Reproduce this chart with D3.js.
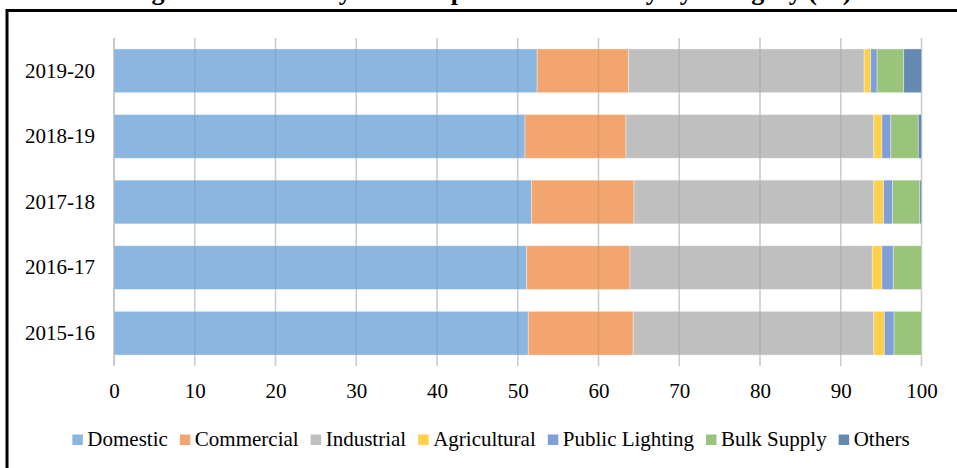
<!DOCTYPE html>
<html>
<head>
<meta charset="utf-8">
<script src="https://cdn.jsdelivr.net/npm/d3@7"></script>
<style>
  html, body { margin: 0; padding: 0; background: #fff; overflow: hidden; }
  svg { display: block; }
  text { font-family: "Liberation Serif", "Times New Roman", serif; fill: #000; }
</style>
</head>
<body>
<svg id="chart" width="957" height="468"></svg>
<script>
// Share of electricity consumption by consumer category, per fiscal year (%)
const years = ["2019-20", "2018-19", "2017-18", "2016-17", "2015-16"];
const categories = ["Domestic", "Commercial", "Industrial", "Agricultural", "Public Lighting", "Bulk Supply", "Others"];
const domestic      = [52.4, 50.9, 51.7, 51.1, 51.3];
const commercial    = [11.3, 12.5, 12.7, 12.8, 13.0];
const industrial    = [29.2, 30.7, 29.7, 30.0, 29.8];
const agricultural  = [0.8, 1.0, 1.2, 1.2, 1.3];
const publicLighting = [0.8, 1.1, 1.1, 1.4, 1.2];
const bulkSupply    = [3.3, 3.4, 3.4, 3.5, 3.4];
const others        = [2.2, 0.4, 0.2, 0.0, 0.0];
const xTicks = [0, 10, 20, 30, 40, 50, 60, 70, 80, 90, 100];
const titleText = "Figure 4: Electricity Consumption of Electricity by Category (%)";

const colors = ["#8BB6E0", "#F2A56F", "#BFBFBF", "#FFD04B", "#7F9FD6", "#9AC47C", "#6589B0"];
const seriesValues = [domestic, commercial, industrial, agricultural, publicLighting, bulkSupply, others];

const rows = years.map((y, i) => {
  const r = { year: y };
  categories.forEach((c, k) => { r[c] = seriesValues[k][i]; });
  return r;
});
const stacked = d3.stack().keys(categories)(rows);

const svg = d3.select("#chart");
const fontSize = 21;
const serif = '"Liberation Serif", "Times New Roman", serif';

const x = d3.scaleLinear().domain([0, 100]).range([114, 921.5]);
const y = d3.scaleBand().domain(years).range([38, 366]).paddingInner(1 / 3).paddingOuter(1 / 6);
const color = d3.scaleOrdinal().domain(categories).range(colors);

// Outer frame (extends past the right and bottom edges)
svg.append("rect")
  .attr("x", 7).attr("y", 10.5)
  .attr("width", 1000).attr("height", 500)
  .attr("fill", "none").attr("stroke", "#000").attr("stroke-width", 3);

// Title
svg.append("text")
  .attr("x", 490).attr("y", -0.5)
  .attr("text-anchor", "middle")
  .attr("font-weight", "bold")
  .attr("font-size", 26)
  .text(titleText);

// Vertical gridlines under the bars
svg.append("g").selectAll("line").data(xTicks).join("line")
  .attr("x1", d => x(d)).attr("x2", d => x(d))
  .attr("y1", 38).attr("y2", 366)
  .attr("stroke", d => d === 0 ? "#C8C8C8" : "#DCDCDC")
  .attr("stroke-width", 1.6);

// Stacked bars
svg.append("g").selectAll("g").data(stacked).join("g")
  .attr("fill", d => color(d.key))
  .selectAll("rect").data(d => d).join("rect")
  .attr("x", d => x(d[0]))
  .attr("y", d => y(d.data.year))
  .attr("width", d => Math.max(0, x(d[1]) - x(d[0])))
  .attr("height", y.bandwidth())
  .attr("stroke", "rgba(255,255,255,0.45)")
  .attr("stroke-width", 0.8);

// Gridlines faintly visible through the bars
svg.append("g").selectAll("line").data(xTicks).join("line")
  .attr("x1", d => x(d)).attr("x2", d => x(d))
  .attr("y1", 38).attr("y2", 366)
  .attr("stroke", "rgba(0,0,0,0.07)")
  .attr("stroke-width", 1.6);

// Category labels
const yAxis = d3.axisLeft(y).tickSize(0).tickPadding(19);
svg.append("g")
  .attr("transform", `translate(${x(0)},0)`)
  .call(yAxis)
  .call(g => g.select(".domain").remove())
  .call(g => g.attr("font-family", serif).attr("font-size", fontSize))
  .call(g => g.selectAll("text")
    .attr("font-size", fontSize)
    .style("font-family", serif)
    .attr("fill", "#000"));

// Value axis labels
const xAxis = d3.axisBottom(x).tickValues(xTicks).tickSize(0).tickPadding(0);
svg.append("g")
  .attr("transform", "translate(0,366)")
  .call(xAxis)
  .call(g => g.select(".domain").remove())
  .call(g => g.attr("font-family", serif).attr("font-size", fontSize))
  .call(g => g.selectAll("text")
    .attr("font-size", fontSize)
    .attr("dy", null)
    .attr("y", 32)
    .style("font-family", serif)
    .attr("fill", "#000"));

// Legend, laid out from measured text widths and centred in the frame
const legend = svg.append("g");
const sw = 10.5, gapText = 4.5, gapItem = 12;
const items = legend.selectAll("g").data(categories).join("g");
items.append("rect")
  .attr("width", sw).attr("height", sw)
  .attr("y", 434.5)
  .attr("fill", d => color(d));
items.append("text")
  .attr("x", sw + gapText)
  .attr("y", 445.5)
  .attr("font-size", fontSize)
  .text(d => d);
const widths = [];
items.each(function () {
  widths.push(d3.select(this).select("text").node().getComputedTextLength());
});
const total = d3.sum(widths) + categories.length * (sw + gapText) + (categories.length - 1) * gapItem;
let cursor = 491 - total / 2;
items.attr("transform", (d, i) => {
  const t = `translate(${cursor},0)`;
  cursor += sw + gapText + widths[i] + gapItem;
  return t;
});
</script>
</body>
</html>
